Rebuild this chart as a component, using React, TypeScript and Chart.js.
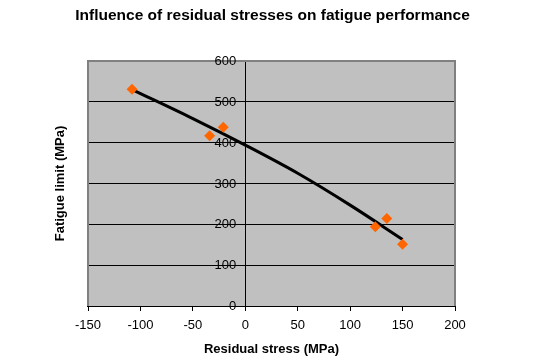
import React, { useEffect, useRef } from "react";
import { Chart, registerables } from "chart.js";

Chart.register(...registerables);

const titleText = "Influence of residual stresses on fatigue performance";
const xTitle = "Residual stress (MPa)";
const yTitle = "Fatigue limit (MPa)";

const residualStress = [-108, -34, -21, 124, 135, 150];
const fatigueLimit = [531, 417, 438, 194, 214, 151];

const trendStress = [-108, -50, 0, 50, 100, 150];
const trendFatigue = [530, 459, 394, 325, 247, 163];

const xMin = -150;
const xMax = 200;
const xStep = 50;
const yMin = 0;
const yMax = 600;
const yStep = 100;

const FONT = "'Liberation Sans', Arial, sans-serif";

const plotAreaPlugin = {
  id: "plotArea",
  beforeDraw(chart: any) {
    const { ctx, chartArea } = chart;
    const { left, top, right, bottom } = chartArea;
    ctx.save();
    ctx.fillStyle = "#C0C0C0";
    ctx.fillRect(left, top, right - left, bottom - top);
    ctx.restore();
  },
  beforeDatasetsDraw(chart: any) {
    const { ctx, chartArea } = chart;
    const { left, top, right, bottom } = chartArea;
    ctx.save();
    ctx.strokeStyle = "#808080";
    ctx.lineWidth = 2;
    ctx.beginPath();
    ctx.moveTo(left, bottom);
    ctx.lineTo(left, top);
    ctx.lineTo(right, top);
    ctx.lineTo(right, bottom);
    ctx.stroke();
    ctx.strokeStyle = "#000";
    ctx.lineWidth = 1;
    ctx.beginPath();
    ctx.moveTo(left - 1, Math.round(bottom) + 0.5);
    ctx.lineTo(right + 1, Math.round(bottom) + 0.5);
    ctx.stroke();

    // y tick labels, placed left of the y axis that crosses at x = 0
    const yScale = chart.scales.y;
    const xScale = chart.scales.x;
    const axisX = xScale.getPixelForValue(0);
    ctx.fillStyle = "#000";
    ctx.font = `13px ${FONT}`;
    ctx.textAlign = "right";
    ctx.textBaseline = "middle";
    yScale.ticks.forEach((t: any) => {
      ctx.fillText(String(t.value), axisX - 9, yScale.getPixelForValue(t.value) + 0.5);
    });

    // chart title
    ctx.font = `bold 15.5px ${FONT}`;
    ctx.textAlign = "center";
    ctx.textBaseline = "alphabetic";
    ctx.fillText(titleText, (left + right) / 2 + 1, 19.5);

    // y title
    ctx.font = `bold 13px ${FONT}`;
    ctx.textAlign = "center";
    ctx.textBaseline = "middle";
    ctx.translate(60, (top + bottom) / 2);
    ctx.rotate(-Math.PI / 2);
    ctx.fillText(yTitle, 0, 0);
    ctx.restore();
  },
};

export default function App() {
  const canvasRef = useRef<HTMLCanvasElement | null>(null);

  useEffect(() => {
    const canvas = canvasRef.current;
    if (!canvas) return;
    const points = residualStress.map((x, i) => ({ x, y: fatigueLimit[i] }));
    const trend = trendStress.map((x, i) => ({ x, y: trendFatigue[i] }));
    const chart = new Chart(canvas, {
      type: "scatter",
      data: {
        datasets: [
          {
            label: "Trend",
            data: trend,
            showLine: true,
            borderColor: "#000000",
            borderWidth: 3,
            pointRadius: 0,
            cubicInterpolationMode: "monotone",
            order: 2,
          } as any,
          {
            label: "Fatigue limit",
            data: points,
            showLine: false,
            pointStyle: "rectRot",
            pointRadius: 5.5,
            backgroundColor: "#FF6600",
            borderColor: "#FF6600",
            borderWidth: 0,
            order: 1,
          } as any,
        ],
      },
      options: {
        responsive: false,
        animation: false,
        layout: { padding: { left: 88, right: 83, top: 61, bottom: 0 } },
        plugins: {
          legend: { display: false },
          tooltip: { enabled: false },
          title: { display: false },
        },
        scales: {
          x: {
            type: "linear",
            position: "bottom",
            min: xMin,
            max: xMax,
            ticks: {
              stepSize: xStep,
              color: "#000",
              font: { family: FONT, size: 13 },
              padding: 7,
              maxRotation: 0,
            },
            grid: {
              drawOnChartArea: false,
              drawTicks: true,
              tickLength: 5,
              color: "#000",
            },
            border: { display: true, color: "#000", width: 1 },
            title: {
              display: true,
              text: xTitle,
              color: "#000",
              font: { family: FONT, size: 13, weight: "bold", lineHeight: 1.2 },
              padding: { top: 0, bottom: 3 },
            },
            afterFit: (scale: any) => {
              scale.height = 54;
            },
          },
          y: {
            type: "linear",
            position: { x: 0 } as any,
            min: yMin,
            max: yMax,
            ticks: {
              stepSize: yStep,
              display: false,
            },
            grid: {
              drawOnChartArea: true,
              drawTicks: true,
              tickLength: 4,
              color: (ctx: any) =>
                ctx.tick && ctx.tick.value === yMax ? "rgba(0,0,0,0)" : "#000",
              lineWidth: 1,
            },
            border: { display: true, color: "#000", width: 1 },
          },
        },
      },
      plugins: [plotAreaPlugin],
    });
    return () => chart.destroy();
  }, []);

  return (
    <div style={{ position: "fixed", left: 0, top: 0, width: 538, height: 360, background: "#fff" }}>
      <canvas ref={canvasRef} width={538} height={360} />
    </div>
  );
}
